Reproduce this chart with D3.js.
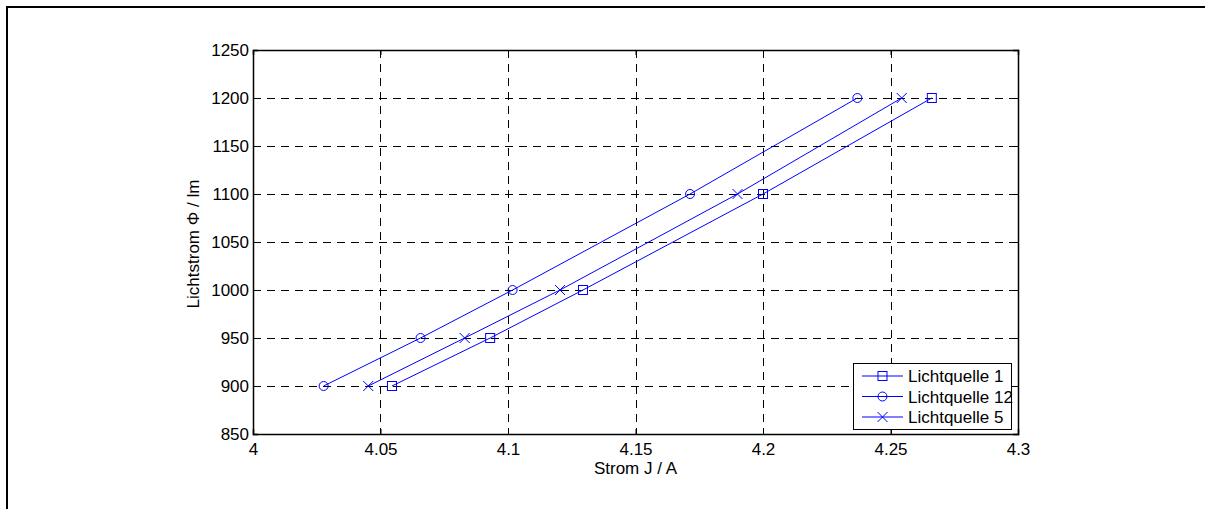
<!DOCTYPE html>
<html>
<head>
<meta charset="utf-8">
<script src="https://cdn.jsdelivr.net/npm/d3@7"></script>
<style>
  body { margin: 0; background: #fff; }
  text { font-family: "Liberation Sans", Arial, sans-serif; }
</style>
</head>
<body>
<div class="chart-container"></div>
<script>
// Data
const flux = [900, 950, 1000, 1100, 1200];
const current1 = [4.0545, 4.093, 4.1294, 4.2, 4.2662];
const current12 = [4.0277, 4.0657, 4.1018, 4.1714, 4.237];
const current5 = [4.0452, 4.083, 4.1204, 4.19, 4.2544];
const seriesNames = ["Lichtquelle 1", "Lichtquelle 12", "Lichtquelle 5"];
const seriesMarkers = ["square", "circle", "cross"];
const xTicks = [4, 4.05, 4.1, 4.15, 4.2, 4.25, 4.3];
const yTicks = [850, 900, 950, 1000, 1050, 1100, 1150, 1200, 1250];

document.addEventListener("DOMContentLoaded", function () {
  const width = 1205;
  const height = 509;
  const left = 253, right = 1018, top = 50, bottom = 434;
  const blue = "#0000ff";
  const fontSize = "17px";

  const svg = d3.select(".chart-container")
      .append("svg")
      .attr("width", width)
      .attr("height", height);

  // outer frame (only top and left edges visible)
  svg.append("path")
      .attr("d", `M7,${height} L7,7 L${width},7`)
      .attr("fill", "none")
      .attr("stroke", "#000")
      .attr("stroke-width", 2);

  const x = d3.scaleLinear().domain([4, 4.3]).range([left, right]);
  const y = d3.scaleLinear().domain([850, 1250]).range([bottom, top]);

  // grid
  const grid = svg.append("g").attr("stroke", "#000").attr("stroke-width", 1)
      .attr("stroke-dasharray", "8,6").attr("shape-rendering", "crispEdges");
  grid.selectAll(".vg").data(xTicks.slice(1, -1)).enter().append("line")
      .attr("x1", d => Math.round(x(d)) + 0.5).attr("x2", d => Math.round(x(d)) + 0.5)
      .attr("y1", top).attr("y2", bottom);
  grid.selectAll(".hg").data(yTicks.slice(1, -1)).enter().append("line")
      .attr("y1", d => Math.round(y(d)) + 0.5).attr("y2", d => Math.round(y(d)) + 0.5)
      .attr("x1", left).attr("x2", right);

  // axes: ticks inside, box on
  svg.append("g").attr("transform", `translate(0,${bottom})`)
      .call(d3.axisBottom(x).tickValues(xTicks).tickSize(-5).tickPadding(9).tickFormat(d3.format("")));
  svg.append("g").attr("transform", `translate(0,${top})`)
      .call(d3.axisTop(x).tickValues(xTicks).tickSize(-5).tickFormat(""));
  svg.append("g").attr("transform", `translate(${left},0)`)
      .call(d3.axisLeft(y).tickValues(yTicks).tickSize(-5).tickPadding(4).tickFormat(d3.format("d")));
  svg.append("g").attr("transform", `translate(${right},0)`)
      .call(d3.axisRight(y).tickValues(yTicks).tickSize(-5).tickFormat(""));

  svg.selectAll(".domain").attr("stroke", "#000").attr("stroke-width", 1.5);
  svg.selectAll(".tick line").attr("stroke", "#000");
  svg.selectAll(".tick text")
      .attr("font-size", fontSize)
      .attr("fill", "#000");

  // axis titles
  svg.append("text")
      .attr("x", (left + right) / 2)
      .attr("y", 474)
      .attr("text-anchor", "middle")
      .attr("font-size", fontSize)
      .text("Strom J / A");
  svg.append("text")
      .attr("transform", `translate(199,${(top + bottom) / 2 + 2}) rotate(-90)`)
      .attr("text-anchor", "middle")
      .attr("font-size", fontSize)
      .text("Lichtstrom \u03A6 / lm");

  const line = d3.line().x(d => x(d[0])).y(d => y(d[1]));

  function drawMarker(g, type, cx, cy) {
    if (type === "square") {
      g.append("rect").attr("x", cx - 4.5).attr("y", cy - 4.5).attr("width", 9).attr("height", 9)
          .attr("fill", "none").attr("stroke", blue);
    } else if (type === "circle") {
      g.append("circle").attr("cx", cx).attr("cy", cy).attr("r", 4.5)
          .attr("fill", "none").attr("stroke", blue);
    } else {
      g.append("path").attr("d", `M${cx - 5},${cy - 5}L${cx + 5},${cy + 5}M${cx - 5},${cy + 5}L${cx + 5},${cy - 5}`)
          .attr("stroke", blue);
    }
  }

  const allCurrents = [current1, current12, current5];
  allCurrents.forEach(function (cur, i) {
    const pts = cur.map((c, j) => [c, flux[j]]);
    const g = svg.append("g");
    g.append("path").attr("d", line(pts)).attr("fill", "none").attr("stroke", blue).attr("stroke-width", 1);
    pts.forEach(p => drawMarker(g, seriesMarkers[i], x(p[0]), y(p[1])));
  });

  // legend
  const lg = svg.append("g");
  lg.append("rect").attr("x", 853.5).attr("y", 363.5).attr("width", 158).attr("height", 66)
      .attr("fill", "#fff").attr("stroke", "#000").attr("stroke-width", 1);
  seriesNames.forEach(function (name, i) {
    const ly = 376 + i * 20.5;
    lg.append("line").attr("x1", 862).attr("x2", 903).attr("y1", ly).attr("y2", ly).attr("stroke", blue);
    drawMarker(lg, seriesMarkers[i], 882.5, ly);
    lg.append("text").attr("x", 908).attr("y", ly + 6).attr("font-size", fontSize).text(name);
  });
});
</script>
</body>
</html>
